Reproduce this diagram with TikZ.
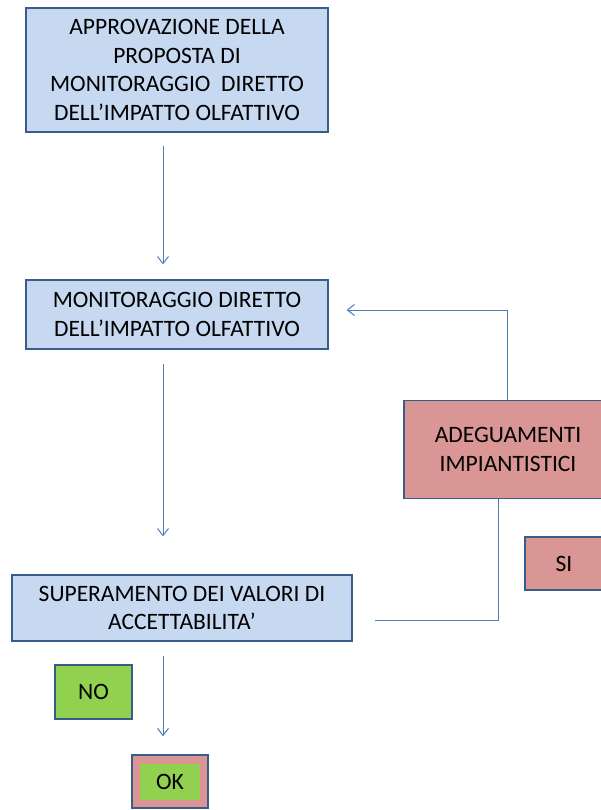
\documentclass[tikz,border=0pt]{standalone}
\usepackage{fontspec}
\setmainfont{Carlito}
\usetikzlibrary{arrows.meta}
\definecolor{boxblue}{HTML}{C6D9F1}
\definecolor{boxedge}{HTML}{385D8A}
\definecolor{boxred}{HTML}{D99694}
\definecolor{boxgreen}{HTML}{92D050}
\definecolor{linkblue}{HTML}{4A7EBB}
\begin{document}
\begin{tikzpicture}[
    x=1pt,y=-1pt,
    every node/.style={font=\fontsize{23.5}{28.5}\selectfont,align=center,inner sep=0pt},
    blue box/.style={rectangle,draw=boxedge,fill=boxblue,line width=1.3pt},
    red box/.style={rectangle,draw=boxedge,fill=boxred,line width=1.6pt},
    green box/.style={rectangle,draw=boxedge,fill=boxgreen,line width=1.6pt},
    link/.style={draw=linkblue,line width=1pt},
    flow/.style={link,-{Straight Barb[length=7pt,width=11pt]}},
]
\useasboundingbox (0,0) rectangle (600,810);

\node[blue box,minimum width=302pt,minimum height=124pt] (approv) at (177,70)
    {APPROVAZIONE DELLA\\PROPOSTA DI\\MONITORAGGIO~~DIRETTO\\DELL’IMPATTO OLFATTIVO};
\node[blue box,minimum width=302pt,minimum height=69pt] (monit) at (177,314.5)
    {MONITORAGGIO DIRETTO\\DELL’IMPATTO OLFATTIVO};
\node[blue box,minimum width=340pt,minimum height=66pt] (super) at (182,608)
    {SUPERAMENTO DEI VALORI DI\\ACCETTABILITA’};
\node[red box,minimum width=208pt,minimum height=98pt] (adeg) at (508,449.5)
    {ADEGUAMENTI\\IMPIANTISTICI};
\node[red box,minimum width=78pt,minimum height=53pt] (si) at (564,563.5) {SI};
\node[green box,minimum width=77pt,minimum height=54pt] (no) at (93.5,692) {NO};
\node[red box,minimum width=76pt,minimum height=53pt] (okframe) at (170,781.5) {};
\node[fill=boxgreen,minimum width=60pt,minimum height=36pt] (ok) at (okframe) {OK};

% main flow
\draw[flow,shorten <=13pt,shorten >=15pt] (approv.south -| 163,0) -- (monit.north -| 163,0);
\draw[flow,shorten <=14pt,shorten >=38pt] (monit.south -| 163,0) -- (super.north -| 163,0);
\draw[flow,shorten <=14pt,shorten >=18pt] (super.south -| 163,0) -- (okframe.north -| 163,0);

% feedback loop
\draw[flow,shorten >=18pt] ([xshift=-1pt]adeg.north) |- ([yshift=4.5pt]monit.east);
\draw[link] ([xshift=-10pt]adeg.south) |- ([xshift=22pt,yshift=-12pt]super.east);
\end{tikzpicture}
\end{document}
